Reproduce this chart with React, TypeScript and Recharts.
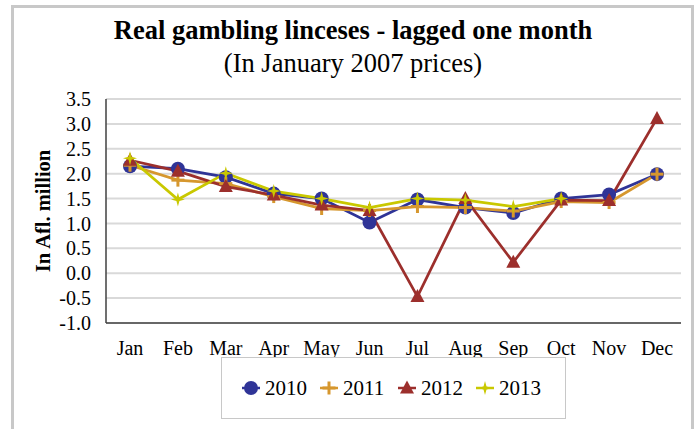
import { LineChart, Line, XAxis, YAxis, CartesianGrid, Label } from "recharts";

const months = ["Jan", "Feb", "Mar", "Apr", "May", "Jun", "Jul", "Aug", "Sep", "Oct", "Nov", "Dec"];
const y2010 = [2.15, 2.1, 1.93, 1.6, 1.5, 1.02, 1.48, 1.32, 1.21, 1.5, 1.58, 1.99];
const y2011 = [2.17, 1.87, 1.8, 1.54, 1.3, 1.26, 1.34, 1.32, 1.25, 1.44, 1.42, 1.99];
const y2012 = [2.27, 2.05, 1.74, 1.57, 1.37, 1.26, -0.47, 1.5, 0.22, 1.47, 1.46, 3.11];
const y2013 = [2.31, 1.48, 2.01, 1.65, 1.5, 1.32, 1.5, 1.47, 1.34, 1.5, null, null];
const yTicks = [-1, -0.5, 0, 0.5, 1, 1.5, 2, 2.5, 3, 3.5];

const data = months.map((m, i) => ({
  month: m,
  "2010": y2010[i],
  "2011": y2011[i],
  "2012": y2012[i],
  "2013": y2013[i],
}));

const FONT = "'Liberation Serif', 'Times New Roman', serif";

const COLORS: Record<string, string> = {
  "2010": "#2f3497",
  "2011": "#d6972e",
  "2012": "#9c2f2c",
  "2013": "#c9c800",
};

function Marker({ kind, cx, cy }: { kind: string; cx: number; cy: number }) {
  const c = COLORS[kind];
  if (kind === "2010") return <circle cx={cx} cy={cy} r={7} fill={c} />;
  if (kind === "2011")
    return (
      <g stroke={c} strokeWidth={3}>
        <line x1={cx - 6.5} y1={cy} x2={cx + 6.5} y2={cy} />
        <line x1={cx} y1={cy - 6.5} x2={cx} y2={cy + 6.5} />
      </g>
    );
  if (kind === "2012")
    return <path d={`M${cx},${cy - 7.5} L${cx + 7},${cy + 5.5} L${cx - 7},${cy + 5.5} Z`} fill={c} />;
  return (
    <path
      d={`M${cx},${cy - 7} L${cx + 1.5},${cy - 1.5} L${cx + 7},${cy} L${cx + 1.5},${cy + 1.5} L${cx},${cy + 7} L${cx - 1.5},${cy + 1.5} L${cx - 7},${cy} L${cx - 1.5},${cy - 1.5} Z`}
      fill={c}
    />
  );
}

const makeDot = (kind: string) => (props: any) => {
  const { cx, cy, value, index } = props;
  if (value == null || cx == null || cy == null) return <g key={`${kind}-${index}`} />;
  return <Marker key={`${kind}-${index}`} kind={kind} cx={cx} cy={cy} />;
};

function LegendBox() {
  const items = ["2010", "2011", "2012", "2013"];
  return (
    <div
      style={{
        position: "absolute",
        left: 221,
        top: 357,
        width: 345,
        height: 62,
        border: "1px solid #c8c8c8",
        display: "flex",
        alignItems: "center",
        paddingLeft: 19,
        fontFamily: FONT,
        fontSize: 21,
        color: "#000",
        boxSizing: "border-box",
        background: "#fff",
      }}
    >
      {items.map((k) => (
        <span key={k} style={{ display: "flex", alignItems: "center", width: 78 }}>
          <svg width={20} height={18}>
            <line x1={1} y1={9} x2={19} y2={9} stroke={COLORS[k]} strokeWidth={2.5} />
            <Marker kind={k} cx={10} cy={9} />
          </svg>
          <span style={{ marginLeft: 4 }}>{k}</span>
        </span>
      ))}
    </div>
  );
}

export default function App() {
  return (
    <div style={{ position: "absolute", left: 0, top: 0, width: 697, height: 429, background: "#fff", overflow: "hidden" }}>
      <div
        style={{
          position: "absolute",
          left: 11,
          top: 5,
          width: 683,
          height: 440,
          border: "3px solid #c8c8c8",
          boxSizing: "border-box",
        }}
      />
      <div
        style={{
          position: "absolute",
          left: 0,
          width: 706,
          top: 14,
          textAlign: "center",
          fontFamily: FONT,
          fontWeight: "bold",
          fontSize: 26.5,
          lineHeight: "32px",
          color: "#000",
        }}
      >
        Real gambling linceses - lagged one month
      </div>
      <div
        style={{
          position: "absolute",
          left: 0,
          width: 706,
          top: 47,
          textAlign: "center",
          fontFamily: FONT,
          fontSize: 26.5,
          lineHeight: "32px",
          color: "#000",
        }}
      >
        (In January 2007 prices)
      </div>
      <div style={{ position: "absolute", left: 0, top: 0 }}>
        <LineChart width={697} height={429} data={data} margin={{ top: 99, right: 16, bottom: 0, left: 0 }}>
          <CartesianGrid vertical={false} stroke="#d9d9d9" strokeWidth={2} />
          <XAxis
            dataKey="month"
            tickLine={false}
            axisLine={{ stroke: "#404040", strokeWidth: 1.5 }}
            tick={{ fontFamily: FONT, fontSize: 20, fill: "#000" }}
            tickMargin={12}
            height={106}
            interval={0}
            padding={{ left: 24, right: 24 }}
          />
          <YAxis
            domain={[-1, 3.5]}
            ticks={yTicks}
            tickFormatter={(v: number) => v.toFixed(1)}
            tickLine={false}
            axisLine={{ stroke: "#404040", strokeWidth: 1.5 }}
            tick={{ fontFamily: FONT, fontSize: 20, fill: "#000" }}
            tickMargin={9}
            width={106}
            interval={0}
          >
            <Label
              value="In Afl. million"
              angle={-90}
              position="insideLeft"
              offset={43}
              style={{ fontFamily: FONT, fontSize: 20.5, fontWeight: "bold", fill: "#000", textAnchor: "middle" }}
            />
          </YAxis>
          {["2010", "2011", "2012", "2013"].map((k) => (
            <Line
              key={k}
              type="linear"
              dataKey={k}
              stroke={COLORS[k]}
              strokeWidth={2.75}
              dot={makeDot(k)}
              activeDot={false}
              isAnimationActive={false}
              connectNulls={false}
            />
          ))}
        </LineChart>
      </div>
      <LegendBox />
    </div>
  );
}
